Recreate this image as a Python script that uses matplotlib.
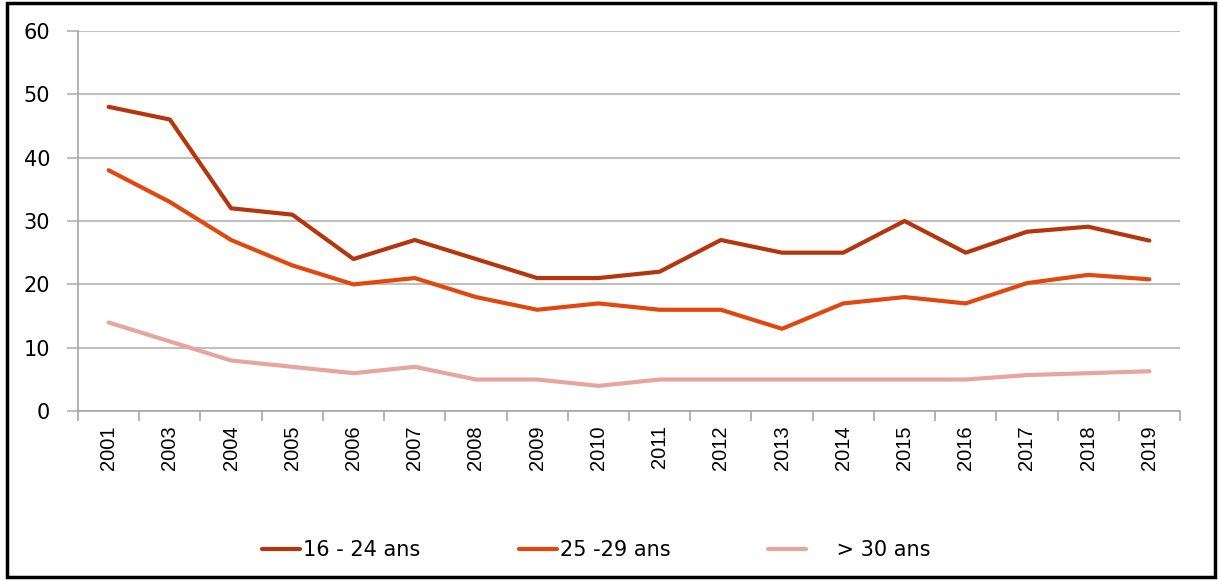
import matplotlib.pyplot as plt
from matplotlib.patches import Rectangle

plt.rcParams['font.family'] = ['DejaVu Sans']

# =========================
# Data
# =========================
years = ["2001", "2003", "2004", "2005", "2006", "2007", "2008", "2009", "2010",
         "2011", "2012", "2013", "2014", "2015", "2016", "2017", "2018", "2019"]

age_16_24 = [48, 46, 32, 31, 24, 27, 24, 21, 21, 22, 27, 25, 25, 30, 25, 28.3, 29.1, 26.9]
age_25_29 = [38, 33, 27, 23, 20, 21, 18, 16, 17, 16, 16, 13, 17, 18, 17, 20.2, 21.5, 20.8]
age_30_plus = [14, 11, 8, 7, 6, 7, 5, 5, 4, 5, 5, 5, 5, 5, 5, 5.7, 6.0, 6.3]

labels = ["16 - 24 ans", "25 -29 ans", "    > 30 ans"]
colors = ["#B5360C", "#E0480F", "#E6A59E"]

# =========================
# Figure
# =========================
fig = plt.figure(figsize=(12.19, 5.80), dpi=100)
ax = fig.add_axes([0.064, 0.291, 0.904, 0.656])

x = list(range(len(years)))
for vals, lab, col in zip([age_16_24, age_25_29, age_30_plus], labels, colors):
    ax.plot(x, vals, color=col, lw=3, label=lab, solid_capstyle="round")

ax.set_xlim(-0.5, len(years) - 0.5)
ax.set_ylim(0, 60)
ax.set_yticks(range(0, 61, 10))
ax.set_xticks(x)
ax.set_xticklabels(years, rotation=90, fontsize=14.5, family="Liberation Sans")
ax.set_xticks([i - 0.5 for i in range(len(years) + 1)], minor=True)

ax.grid(axis="y", color="#BFBFBF", lw=1.5)
ax.set_axisbelow(True)

for side in ["top", "right"]:
    ax.spines[side].set_visible(False)
for side in ["left", "bottom"]:
    ax.spines[side].set_color("#A6A6A6")
    ax.spines[side].set_linewidth(1.2)

ax.tick_params(axis="y", length=8, color="#BFBFBF", width=1.5, labelsize=15, pad=12)
ax.tick_params(axis="x", which="major", length=0, pad=10)
ax.tick_params(axis="x", which="minor", length=7, color="#A6A6A6", width=1.2)

fig.legend(loc="center", bbox_to_anchor=(0.489, 0.052), ncol=3, frameon=False,
           fontsize=15, handlelength=1.83, handletextpad=0.15, columnspacing=4.7)

fig.patches.append(Rectangle((0.006, 0.005), 0.991, 0.99, transform=fig.transFigure,
                             fill=False, edgecolor="black", lw=2.5))

fig.savefig("out.png", dpi=100)
